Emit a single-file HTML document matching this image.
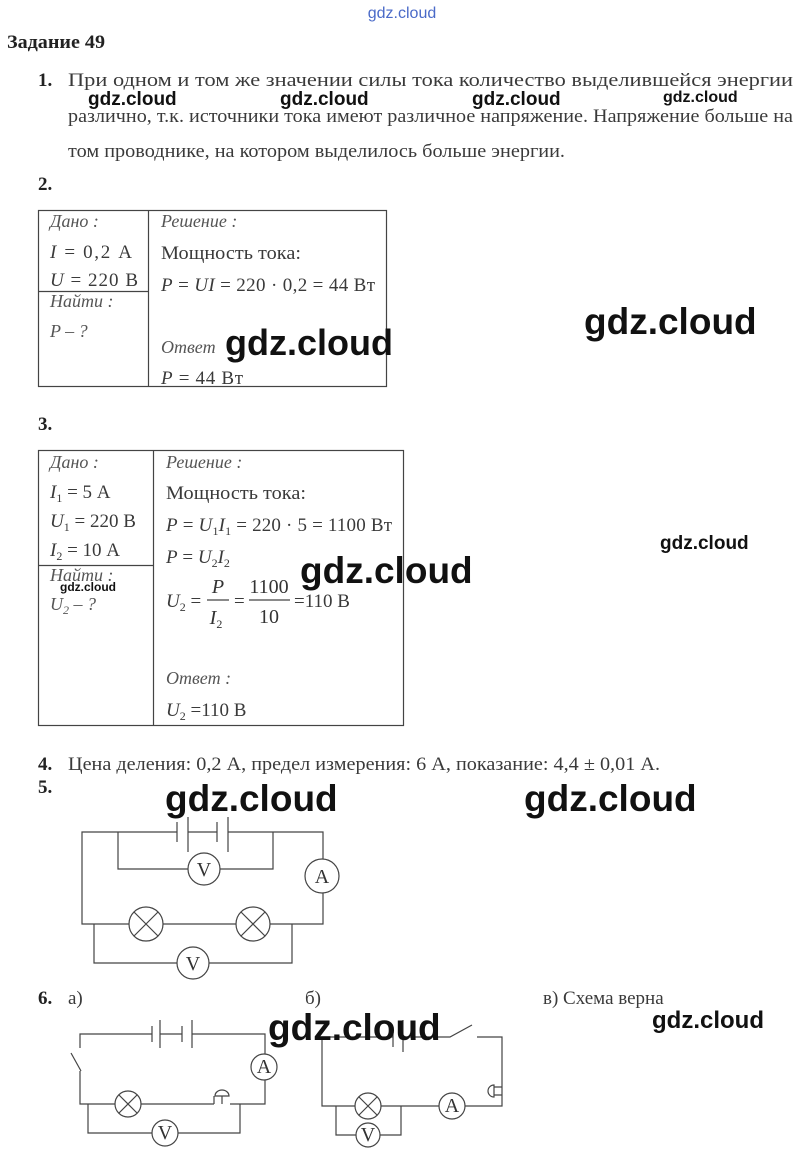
<!DOCTYPE html>
<html><head><meta charset="utf-8"><style>
html,body{margin:0;padding:0;background:#fff}
svg{display:block}
.t{font-family:"Liberation Serif",serif;font-size:19px;fill:#3a3a3a}
.i{font-style:italic}
.l{font-size:18px;font-style:italic;fill:#555}
.b{font-weight:bold;fill:#222}
.w{font-family:"Liberation Sans",sans-serif;font-weight:bold;fill:#111}
.s{stroke:#444;stroke-width:1.2;fill:none}
.c{stroke:#444;stroke-width:1.2;fill:#fff}
.m{font-family:"Liberation Serif",serif;font-size:20px;fill:#333;text-anchor:middle}
.sub{font-size:12px}
</style></head><body>
<svg width="804" height="1163" viewBox="0 0 804 1163" xmlns="http://www.w3.org/2000/svg">
<text x="402" y="18" text-anchor="middle" style="font-family:'Liberation Sans',sans-serif;font-size:16px;fill:#4a6ac8">gdz.cloud</text>
<text x="7" y="48" class="t b" font-size="18" textLength="98" lengthAdjust="spacingAndGlyphs">Задание 49</text>

<text x="38" y="86" class="t b" font-size="18">1.</text>
<text x="68" y="86" class="t" textLength="725" lengthAdjust="spacingAndGlyphs">При одном и том же значении силы тока количество выделившейся энергии</text>
<text x="68" y="122" class="t" textLength="725" lengthAdjust="spacingAndGlyphs">различно, т.к. источники тока имеют различное напряжение. Напряжение больше на</text>
<text x="68" y="157" class="t" textLength="497" lengthAdjust="spacingAndGlyphs">том проводнике, на котором выделилось больше энергии.</text>
<text x="88" y="105" class="w" font-size="19">gdz.cloud</text>
<text x="280" y="105" class="w" font-size="19">gdz.cloud</text>
<text x="472" y="105" class="w" font-size="19">gdz.cloud</text>
<text x="663" y="102" class="w" font-size="16">gdz.cloud</text>

<text x="38" y="190" class="t b" font-size="18">2.</text>
<rect x="38.5" y="210.5" width="348" height="176" class="s"/>
<line x1="148.5" y1="210" x2="148.5" y2="387" class="s"/>
<line x1="38" y1="291.5" x2="148" y2="291.5" class="s"/>
<text x="50" y="227" class="t l">Дано :</text>
<text x="50" y="258" class="t" textLength="82"><tspan class="i">I</tspan> = 0,2 А</text>
<text x="50" y="286" class="t" textLength="88"><tspan class="i">U</tspan> = 220 В</text>
<text x="50" y="307" class="t l">Найти :</text>
<text x="50" y="337" class="t l">P – ?</text>
<text x="161" y="227" class="t l">Решение :</text>
<text x="161" y="259" class="t" textLength="140" lengthAdjust="spacingAndGlyphs">Мощность тока:</text>
<text x="161" y="291" class="t" textLength="214"><tspan class="i">P</tspan> = <tspan class="i">UI</tspan> = 220 · 0,2 = 44 Вт</text>
<text x="161" y="353" class="t l" font-size="17">Ответ</text>
<text x="161" y="384" class="t" textLength="82"><tspan class="i">P</tspan> = 44 Вт</text>
<text x="225" y="355" class="w" font-size="36">gdz.cloud</text>
<text x="584" y="334" class="w" font-size="37">gdz.cloud</text>

<text x="38" y="430" class="t b" font-size="18">3.</text>
<rect x="38.5" y="450.5" width="365" height="275" class="s"/>
<line x1="153.5" y1="450" x2="153.5" y2="726" class="s"/>
<line x1="38" y1="565.5" x2="153" y2="565.5" class="s"/>
<text x="50" y="468" class="t l">Дано :</text>
<text x="50" y="498" class="t"><tspan class="i">I</tspan><tspan class="sub" dy="4">1</tspan><tspan dy="-4"> = 5 А</tspan></text>
<text x="50" y="527" class="t"><tspan class="i">U</tspan><tspan class="sub" dy="4">1</tspan><tspan dy="-4"> = 220 В</tspan></text>
<text x="50" y="556" class="t"><tspan class="i">I</tspan><tspan class="sub" dy="4">2</tspan><tspan dy="-4"> = 10 А</tspan></text>
<text x="50" y="581" class="t l">Найти :</text>
<text x="50" y="610" class="t l">U<tspan class="sub" dy="4">2</tspan><tspan dy="-4"> – ?</tspan></text>
<text x="60" y="591" class="w" font-size="12">gdz.cloud</text>
<text x="166" y="468" class="t l">Решение :</text>
<text x="166" y="499" class="t" textLength="140" lengthAdjust="spacingAndGlyphs">Мощность тока:</text>
<text x="166" y="531" class="t" textLength="226"><tspan class="i">P</tspan> = <tspan class="i">U</tspan><tspan class="sub" dy="4">1</tspan><tspan dy="-4" class="i">I</tspan><tspan class="sub" dy="4">1</tspan><tspan dy="-4"> = 220 · 5 = 1100 Вт</tspan></text>
<text x="166" y="563" class="t"><tspan class="i">P</tspan> = <tspan class="i">U</tspan><tspan class="sub" dy="4">2</tspan><tspan dy="-4" class="i">I</tspan><tspan class="sub" dy="4">2</tspan></text>
<text x="166" y="607" class="t"><tspan class="i">U</tspan><tspan class="sub" dy="4">2</tspan><tspan dy="-4"> =</tspan></text>
<text x="218" y="593" class="m i">P</text>
<line x1="207" y1="600" x2="229" y2="600" class="s"/>
<text x="216" y="624" class="m"><tspan class="i">I</tspan><tspan class="sub" dy="4">2</tspan></text>
<text x="234" y="607" class="t">=</text>
<text x="269" y="593" class="m">1100</text>
<line x1="249" y1="600" x2="290" y2="600" class="s"/>
<text x="269" y="623" class="m">10</text>
<text x="294" y="607" class="t">=110 В</text>
<text x="166" y="684" class="t l">Ответ :</text>
<text x="166" y="716" class="t"><tspan class="i">U</tspan><tspan class="sub" dy="4">2</tspan><tspan dy="-4"> =110 В</tspan></text>
<text x="300" y="583" class="w" font-size="37">gdz.cloud</text>
<text x="660" y="549" class="w" font-size="19">gdz.cloud</text>

<text x="38" y="770" class="t b" font-size="18">4.</text>
<text x="68" y="770" class="t" textLength="592" lengthAdjust="spacingAndGlyphs">Цена деления: 0,2 А, предел измерения: 6 А, показание: 4,4 ± 0,01 А.</text>
<text x="38" y="793" class="t b" font-size="18">5.</text>
<text x="165" y="811" class="w" font-size="37">gdz.cloud</text>
<text x="524" y="811" class="w" font-size="37">gdz.cloud</text>

<!-- circuit 5 -->
<g class="s">
<polyline points="177,832 82,832 82,924 129,924"/>
<line x1="188" y1="832" x2="217" y2="832"/>
<polyline points="228,832 323,832 323,859"/>
<polyline points="323,893 323,924 270,924"/>
<line x1="163" y1="924" x2="236" y2="924"/>
<polyline points="118,832 118,869 188,869"/>
<polyline points="220,869 273,869 273,832"/>
<polyline points="94,924 94,963 177,963"/>
<polyline points="209,963 292,963 292,924"/>
<line x1="177" y1="822" x2="177" y2="842"/>
<line x1="188" y1="817" x2="188" y2="852"/>
<line x1="217" y1="822" x2="217" y2="842"/>
<line x1="228" y1="817" x2="228" y2="852"/>
</g>
<circle cx="204" cy="869" r="16" class="c"/><text x="204" y="876" class="m">V</text>
<circle cx="322" cy="876" r="17" class="c"/><text x="322" y="883" class="m">A</text>
<circle cx="193" cy="963" r="16" class="c"/><text x="193" y="970" class="m">V</text>
<g class="c"><circle cx="146" cy="924" r="17"/><circle cx="253" cy="924" r="17"/></g>
<g class="s"><path d="M134,912 L158,936 M158,912 L134,936"/><path d="M241,912 L265,936 M265,912 L241,936"/></g>

<text x="38" y="1004" class="t b" font-size="18">6.</text>
<text x="68" y="1004" class="t">а)</text>
<text x="305" y="1004" class="t">б)</text>
<text x="543" y="1004" class="t" font-size="18">в) Схема верна</text>

<!-- circuit 6a -->
<g class="s">
<polyline points="80,1048 80,1034 152,1034"/>
<line x1="160" y1="1034" x2="182" y2="1034"/>
<polyline points="192,1034 265,1034 265,1054"/>
<line x1="152" y1="1026" x2="152" y2="1042"/>
<line x1="160" y1="1020" x2="160" y2="1048"/>
<line x1="182" y1="1026" x2="182" y2="1042"/>
<line x1="192" y1="1020" x2="192" y2="1048"/>
<line x1="71" y1="1053" x2="81" y2="1071"/>
<polyline points="80,1071 80,1104 115,1104"/>
<line x1="141" y1="1104" x2="214" y2="1104"/>
<polyline points="230,1104 265,1104 265,1080"/>
<polyline points="88,1104 88,1133 152,1133"/>
<polyline points="178,1133 240,1133 240,1104"/>
<path d="M214,1104 V1096 M222,1104 V1096 M215,1096 A7,6 0 0 1 229,1096 Z" />
</g>
<circle cx="264" cy="1067" r="13" class="c"/><text x="264" y="1073" class="m" font-size="16">A</text>
<circle cx="165" cy="1133" r="13" class="c"/><text x="165" y="1139" class="m" font-size="16">V</text>
<circle cx="128" cy="1104" r="13" class="c"/>
<path d="M119,1095 L137,1113 M137,1095 L119,1113" class="s"/>

<!-- circuit 6b -->
<g class="s">
<polyline points="393,1037 322,1037 322,1106 355,1106"/>
<line x1="381" y1="1106" x2="439" y2="1106"/>
<polyline points="465,1106 502,1106 502,1037 477,1037"/>
<polyline points="403,1037 450,1037 472,1025"/>
<line x1="393" y1="1027" x2="393" y2="1047"/>
<line x1="403" y1="1020" x2="403" y2="1052"/>
<polyline points="336,1106 336,1135 356,1135"/>
<polyline points="380,1135 401,1135 401,1106"/>
<path d="M502,1087 H494 M502,1095 H494 M494,1085 A6,6 0 0 0 494,1097 Z"/>
</g>
<circle cx="368" cy="1106" r="13" class="c"/>
<path d="M359,1097 L377,1115 M377,1097 L359,1115" class="s"/>
<circle cx="452" cy="1106" r="13" class="c"/><text x="452" y="1112" class="m" font-size="16">A</text>
<circle cx="368" cy="1135" r="12" class="c"/><text x="368" y="1141" class="m" font-size="16">V</text>

<text x="268" y="1040" class="w" font-size="37">gdz.cloud</text>
<text x="652" y="1028" class="w" font-size="24">gdz.cloud</text>
</svg>
</body></html>
